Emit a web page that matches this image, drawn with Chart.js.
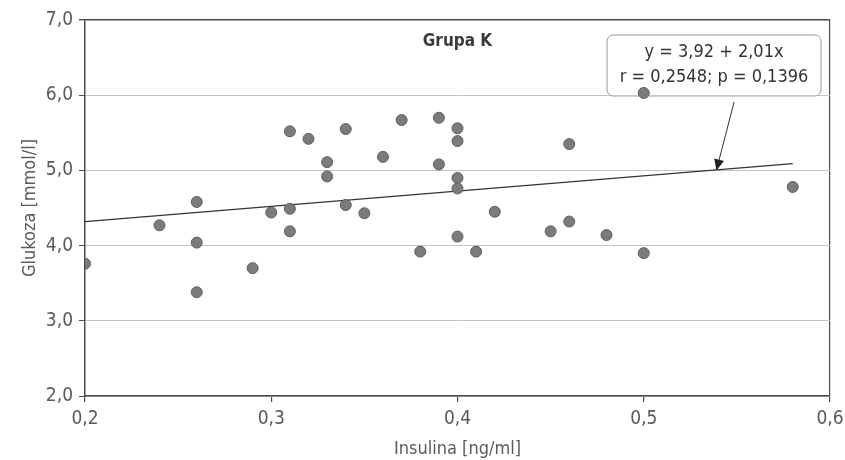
<!DOCTYPE html>
<html>
<head>
<meta charset="utf-8">
<script src="https://cdn.jsdelivr.net/npm/chart.js@4/dist/chart.umd.min.js"></script>
<style>
html,body{margin:0;padding:0;background:#fff;}
#wrap{width:845px;height:460px;position:relative;}
</style>
</head>
<body>
<div id="wrap"><canvas id="c" width="845" height="460"></canvas></div>
<script>
// ---- data ----
const insulina = [0.20,0.24,0.26,0.26,0.26,0.29,0.30,0.31,0.31,0.31,0.32,0.33,0.33,0.34,0.34,0.35,0.36,0.37,0.38,0.39,0.39,0.40,0.40,0.40,0.40,0.40,0.41,0.42,0.45,0.46,0.46,0.48,0.50,0.50,0.58];
const glukoza  = [3.76,4.27,4.58,4.04,3.38,3.70,4.44,4.49,4.19,5.52,5.42,5.11,4.92,5.55,4.54,4.43,5.18,5.67,3.92,5.70,5.08,5.56,5.39,4.90,4.76,4.12,3.92,4.45,4.19,5.35,4.32,4.14,3.90,6.03,4.78];
const regX = [0.20, 0.58];
const regY = [4.32, 5.09];
const xTickLabels = ['0,2','0,3','0,4','0,5','0,6'];
const yTickLabels = ['2,0','3,0','4,0','5,0','6,0','7,0'];
const chartTitle = 'Grupa K';
const xTitle = 'Insulina [ng/ml]';
const yTitle = 'Glukoza [mmol/l]';
const annotLines = ['y = 3,92 + 2,01x', 'r = 0,2548; p = 0,1396'];

const FONT = "'Liberation Sans Narrow', 'Arial Narrow', 'DejaVu Sans Condensed', sans-serif";
const TXT = '#5a5a5a';
const DARK = '#4a4a4a';

const overlay = {
  id: 'overlay',
  beforeDatasetsDraw(chart) {
    const {ctx, chartArea, scales} = chart;
    const xs = scales.x, ys = scales.y;
    ctx.save();
    // title
    ctx.fillStyle = '#3a3a3a';
    ctx.font = "bold 17px " + FONT;
    ctx.textAlign = 'center';
    ctx.textBaseline = 'middle';
    ctx.fillText(chartTitle, xs.getPixelForValue(0.4), chartArea.top + 22);
    // annotation box
    const bx0 = xs.getPixelForValue(0.4803), bx1 = xs.getPixelForValue(0.5952);
    const by0 = ys.getPixelForValue(6.80), by1 = ys.getPixelForValue(5.99);
    ctx.fillStyle = '#fff';
    ctx.strokeStyle = '#999';
    ctx.lineWidth = 1;
    ctx.beginPath();
    ctx.roundRect(bx0, by0, bx1 - bx0, by1 - by0, 6);
    ctx.fill();
    ctx.stroke();
    ctx.fillStyle = '#333';
    ctx.font = "18px " + FONT;
    const cx = (bx0 + bx1) / 2;
    ctx.fillText(annotLines[0], cx, by0 + 17);
    ctx.fillText(annotLines[1], cx, by0 + 42);
    // arrow
    const ax0 = xs.getPixelForValue(0.5485), ay0 = ys.getPixelForValue(5.91);
    const ax1 = xs.getPixelForValue(0.539), ay1 = ys.getPixelForValue(5.0);
    ctx.strokeStyle = '#333';
    ctx.lineWidth = 1;
    ctx.beginPath();
    ctx.moveTo(ax0, ay0);
    ctx.lineTo(ax1, ay1);
    ctx.stroke();
    const ang = Math.atan2(ay1 - ay0, ax1 - ax0);
    const L = 11, W = 5;
    ctx.fillStyle = '#222';
    ctx.beginPath();
    ctx.moveTo(ax1, ay1);
    ctx.lineTo(ax1 - L*Math.cos(ang) + W*Math.sin(ang), ay1 - L*Math.sin(ang) - W*Math.cos(ang));
    ctx.lineTo(ax1 - L*Math.cos(ang) - W*Math.sin(ang), ay1 - L*Math.sin(ang) + W*Math.cos(ang));
    ctx.closePath();
    ctx.fill();
    ctx.restore();
  }
};

new Chart(document.getElementById('c'), {
  type: 'scatter',
  data: {
    datasets: [
      {
        type: 'line',
        data: regX.map((x, i) => ({x, y: regY[i]})),
        borderColor: '#333',
        borderWidth: 1.2,
        pointRadius: 0,
        fill: false,
        order: 2
      },
      {
        data: insulina.map((x, i) => ({x, y: glukoza[i]})),
        backgroundColor: '#7b7b7b',
        borderColor: '#5e5e5e',
        borderWidth: 1,
        pointRadius: 5.5,
        order: 1
      }
    ]
  },
  options: {
    responsive: false,
    animation: false,
    layout: {padding: {left: 0, right: 15, top: 20, bottom: 0}},
    plugins: {legend: {display: false}, tooltip: {enabled: false}, title: {display: false}},
    scales: {
      x: {
        type: 'linear', min: 0.2, max: 0.6,
        afterFit(s) { s.height = 64; s.paddingRight = 0; },
        ticks: {
          stepSize: 0.1, color: TXT, padding: 6,
          font: {family: FONT, size: 19},
          callback: (v) => { const i = Math.round((v - 0.2) / 0.1); return xTickLabels[i]; }
        },
        grid: {
          color: (c) => (c.tick && Math.abs(c.tick.value - 0.6) < 1e-6) ? DARK : 'rgba(0,0,0,0)',
          tickColor: DARK, tickLength: 6, lineWidth: 1.2
        },
        border: {color: DARK, width: 1.5},
        title: {display: true, text: xTitle, color: TXT, font: {family: FONT, size: 18}, padding: {top: 0, bottom: 0}}
      },
      y: {
        type: 'linear', min: 2, max: 7,
        afterFit(s) { s.width = 85; },
        ticks: {
          stepSize: 1, color: TXT, padding: 6,
          font: {family: FONT, size: 19},
          callback: (v) => yTickLabels[Math.round(v - 2)]
        },
        grid: {
          color: (c) => (c.tick && c.tick.value === 7) ? DARK : '#c4c4c4',
          tickColor: DARK, tickLength: 6,
          lineWidth: (c) => (c.tick && c.tick.value === 7) ? 1.4 : 1
        },
        border: {color: DARK, width: 1.5},
        title: {display: true, text: yTitle, color: TXT, font: {family: FONT, size: 18}, padding: {top: 20, bottom: 0}}
      }
    }
  },
  plugins: [overlay]
});
</script>
</body>
</html>
